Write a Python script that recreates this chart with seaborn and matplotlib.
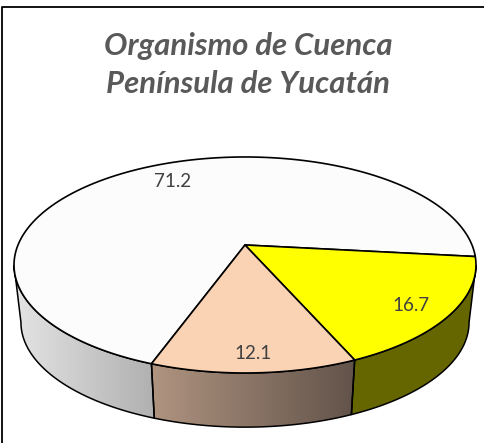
import numpy as np
import matplotlib
matplotlib.use("Agg")
import matplotlib.pyplot as plt
from matplotlib.patches import Polygon
import seaborn as sns

title_lines = ["Organismo de Cuenca", "Península de Yucatán"]
slice_values = [71.2, 16.7, 12.1]
slice_colors = ["#fcfcfc", "#ffff00", "#fad2b4"]
# wall shading, left to right across each slice
wall_colors = [("#e4e4e4", "#b0b0b0"), ("#666600", "#666600"), ("#b09480", "#62534a")]
label_radius = [0.77, 0.84, 0.875]
label_turn = [-4, -2, 0]

sns.set_theme(style="white")
plt.rcParams["font.family"] = ["Lato", "DejaVu Sans"]

W, H = 485, 443
CX = 245
TOP_Y, BOT_Y = 245, 303     # where the pie centre lands, top face and floor
A, B, K = 227, 104.3, 0.185  # tilt of the pie
SHRINK = 0.97
START = -109.9              # first slice starts here, going clockwise
FRONT = np.degrees(np.arcsin(K))


def project(deg, r=1.0, y0=TOP_Y, s=1.0):
    t = np.radians(deg)
    u, v = r * np.cos(t), r * np.sin(t)
    w = 1 + K * v
    return CX + s * A * u / w, y0 - s * B * v / w


def rim(a0, a1, y0=TOP_Y, s=1.0, n=160):
    x, y = project(np.linspace(a0, a1, n), y0=y0, s=s)
    return np.column_stack([x, y])


fig = plt.figure(figsize=(W / 100, H / 100), dpi=100)
ax = fig.add_axes([0, 0, 1, 1])
ax.axis("off")

sweeps = np.array(slice_values) / sum(slice_values) * 360
ends = START - np.cumsum(sweeps)
starts = ends + sweeps

# walls first, only the front part shows
for a0, a1, colors in zip(starts, ends, wall_colors):
    for shift in (0, 360):
        lo, hi = max(a1 + shift, -180 + FRONT), min(a0 + shift, -FRONT)
        if hi <= lo:
            continue
        pts = np.vstack([rim(hi, lo), rim(lo, hi, y0=BOT_Y, s=SHRINK)])
        poly = Polygon(pts, closed=True, fc="none", ec="black", lw=1.1, zorder=3)
        ax.add_patch(poly)
        cmap = sns.blend_palette(colors, as_cmap=True)
        im = ax.imshow(np.linspace(0, 1, 256)[None, :], cmap=cmap, aspect="auto", zorder=2,
                       extent=[pts[:, 0].min(), pts[:, 0].max(), pts[:, 1].max(), pts[:, 1].min()])
        im.set_clip_path(poly)

# top face
for a0, a1, color in zip(starts, ends, slice_colors):
    pts = np.vstack([[CX, TOP_Y], rim(a0, a1, n=400)])
    ax.add_patch(Polygon(pts, closed=True, fc=color, ec="black", lw=1.2, joinstyle="round", zorder=4))

for a0, a1, value, r, turn in zip(starts, ends, slice_values, label_radius, label_turn):
    x, y = project((a0 + a1) / 2 + turn, r=r)
    ax.text(x, y, f"{value:.1f}", ha="center", va="center", fontsize=13.5, color="#404040", zorder=5)

for line, y in zip(title_lines, (45.5, 83.5)):
    ax.text(CX + 3.5, y, line, ha="center", va="center", fontsize=22.4, fontweight="bold",
            fontstyle="italic", color="#595959")

# the frame only shows on the left and top
ax.plot([1.7, 1.7, W], [H, 6.5, 6.5], color="black", lw=1.3, zorder=6)

ax.set_xlim(0, W)
ax.set_ylim(H, 0)
fig.savefig("out.png", dpi=100, facecolor="white")
